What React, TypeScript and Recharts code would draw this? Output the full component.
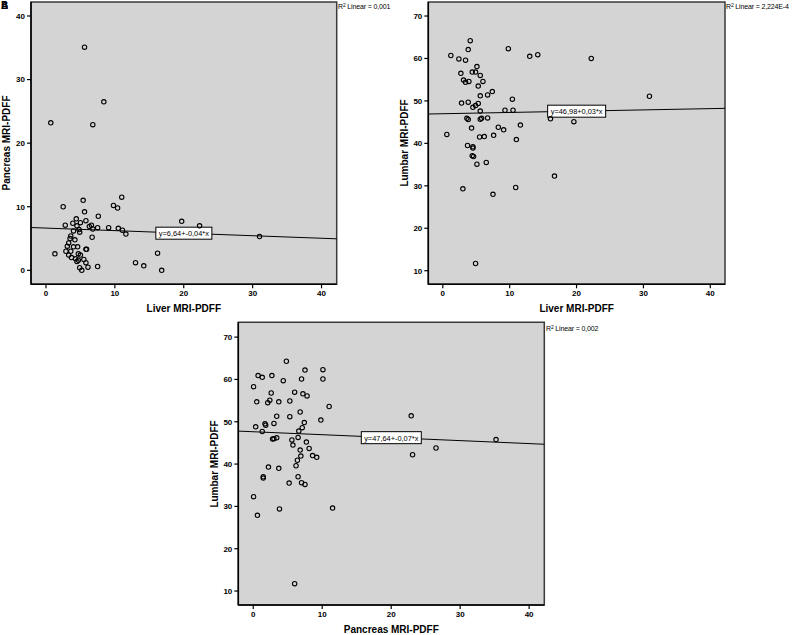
import React from 'react'
import {
  ScatterChart,
  Scatter,
  XAxis,
  YAxis,
  CartesianGrid,
  ReferenceLine,
  ReferenceArea,
} from 'recharts'

// axis ticks
const fatTicks = [0, 10, 20, 30, 40]
const pancreasTicks = [0, 10, 20, 30, 40]
const lumbarTicks = [10, 20, 30, 40, 50, 60, 70]

// panel A: liver (x) vs pancreas (y)
const aLiver = [
  0.7, 5.6, 8.4, 6.8, 1.3, 2.5, 5.4, 5.6, 2.8, 3.9, 4.4, 5.0, 5.8, 4.5, 4.8, 4.9,
  4.0, 3.6, 6.3, 6.6, 6.8, 7.5, 7.6, 9.1, 9.8, 10.4, 11.0, 10.5, 11.1, 11.6, 6.7,
  3.5, 4.2, 3.3, 3.1, 4.0, 4.6, 5.8, 5.9, 2.9, 3.6, 3.3, 4.7, 3.7, 5.0, 4.3, 5.5,
  4.5, 4.7, 5.8, 4.9, 5.2, 6.1, 7.5, 13.0, 14.2, 16.2, 16.8, 19.7, 22.3, 31.0,
]
const aPancreas = [
  23.2, 35.1, 26.5, 22.9, 2.6, 10.0, 11.0, 9.2, 7.1, 7.4, 8.1, 7.5, 7.8, 7.0, 6.4,
  6.0, 6.2, 5.4, 6.9, 7.1, 6.5, 6.7, 8.5, 6.7, 10.2, 9.8, 11.5, 6.6, 6.3, 5.7, 5.2,
  5.0, 4.8, 4.3, 3.8, 3.7, 3.7, 3.3, 3.3, 3.0, 3.0, 2.4, 2.6, 2.0, 2.4, 1.8, 1.7,
  1.4, 1.6, 1.2, 0.4, 0.0, 0.5, 0.6, 1.2, 0.7, 2.7, 0.0, 7.7, 7.0, 5.3,
]

// panel B: liver (x) vs lumbar (y)
const bLiver = [
  0.6, 1.2, 2.4, 3.4, 2.7, 3.1, 3.4, 3.9, 3.8, 4.1, 4.4, 4.9, 5.1, 5.6, 6.0, 5.3,
  5.6, 6.7, 7.4, 2.8, 3.8, 5.3, 4.5, 4.9, 5.6, 3.6, 3.8, 5.6, 5.8, 6.7, 4.3, 5.5,
  6.2, 7.6, 8.3, 9.1, 9.3, 10.5, 10.4, 11.6, 11.0, 9.8, 13.0, 14.2, 16.1, 19.6,
  22.2, 30.9, 3.7, 4.5, 4.5, 4.4, 4.6, 5.1, 6.5, 3.0, 7.5, 10.9, 16.7, 4.9,
]
const bLumbar = [
  42.1, 60.7, 59.9, 59.6, 56.5, 54.9, 54.4, 54.6, 62.1, 64.2, 56.8, 56.8, 58.1,
  56.0, 54.6, 53.5, 51.2, 51.4, 52.2, 49.5, 49.7, 49.4, 48.5, 48.9, 47.6, 45.9,
  45.6, 45.7, 45.9, 46.0, 43.6, 41.5, 41.6, 41.9, 43.8, 43.2, 47.8, 47.8, 50.4,
  44.3, 40.9, 62.3, 60.5, 60.9, 45.8, 45.1, 60.0, 51.1, 39.5, 39.2, 38.9, 37.1,
  36.9, 35.1, 35.5, 29.3, 28.0, 29.6, 32.3, 11.7,
]

// panel C: pancreas (x) vs lumbar (y)
const cPancreas = [
  0.05, 0.7, 1.3, 2.7, 4.35, 4.8, 7.5, 7.0, 10.1, 10.1, 0.5, 2.1, 2.4, 3.7, 2.6,
  5.3, 6.0, 7.2, 7.8, 11.0, 6.8, 3.4, 5.3, 9.8, 0.35, 1.7, 1.8, 3.0, 7.4, 1.3, 6.6,
  7.1, 2.8, 3.0, 3.4, 5.6, 6.5, 5.75, 7.7, 6.8, 8.1, 8.6, 9.2, 6.9, 6.4, 6.2, 2.2,
  3.7, 1.45, 1.45, 6.5, 5.2, 7.0, 7.5, 0.05, 0.6, 3.8, 11.5, 6.0, 22.9, 23.1, 26.5,
  35.2,
]
const cLumbar = [
  58.3, 60.9, 60.5, 60.9, 59.7, 64.3, 62.2, 60.1, 62.3, 60.1, 54.7, 54.5, 55.1,
  54.7, 56.8, 54.9, 57.0, 56.6, 56.1, 53.6, 52.3, 51.3, 51.2, 50.4, 48.8, 49.5,
  49.2, 49.6, 49.8, 47.7, 47.8, 48.6, 45.9, 46.0, 46.2, 45.7, 46.3, 44.5, 45.2,
  43.3, 43.7, 42.0, 41.6, 41.9, 40.9, 39.6, 39.3, 39.0, 37.0, 36.7, 37.0, 35.5,
  35.6, 35.2, 32.3, 27.9, 29.4, 29.6, 11.75, 51.4, 42.2, 43.8, 45.8,
]

const FONT = '"Liberation Sans", Arial, sans-serif'
const X_DOMAIN: [number, number] = [-2.17, 42.2]

const ring = (p: any) => (
  <circle cx={p.cx} cy={p.cy} r={2.2} fill="none" stroke="#000" strokeWidth={1.1} />
)

function EqBox({ viewBox, text, w }: any) {
  const cx = viewBox.x + viewBox.width / 2
  const cy = viewBox.y + viewBox.height / 2
  return (
    <g>
      <rect x={cx - w / 2} y={cy - 6} width={w} height={12} fill="#fff" stroke="#000" strokeWidth={1} />
      <text x={cx} y={cy + 0.5} textAnchor="middle" dominantBaseline="central" fontSize={7.4} fontFamily={FONT} fill="#000">
        {text}
      </text>
    </g>
  )
}

function Panel({ box, plot, xs, ys, yDomain, yTicks, intercept, slope, eq, eqW, xTitle, yTitle, yTitleX, r2, r2Pos }: any) {
  const data = xs.map((x: number, i: number) => ({ x, y: ys[i] }))
  const yAxisW = 25
  const xAxisH = 20
  const margin = {
    left: plot.l - box.x - yAxisW,
    top: plot.t - box.y,
    right: box.x + box.w - plot.r,
    bottom: box.y + box.h - plot.b - xAxisH,
  }
  const fit = (x: number) => intercept + slope * x
  const tick = { fill: '#000', fontSize: 8, fontWeight: 'bold', fontFamily: FONT }
  const midX = (plot.l + plot.r) / 2
  const midY = (plot.t + plot.b) / 2
  return (
    <>
      <div style={{ position: 'absolute', left: box.x, top: box.y }}>
        <ScatterChart width={box.w} height={box.h} margin={margin}>
          <CartesianGrid fill="#d4d4d4" horizontal={false} vertical={false} />
          <XAxis
            type="number"
            dataKey="x"
            domain={X_DOMAIN}
            ticks={fatTicks}
            allowDataOverflow
            height={xAxisH}
            tickSize={4}
            tickMargin={2}
            axisLine={{ stroke: '#000', strokeWidth: 1.5 }}
            tickLine={{ stroke: '#000', strokeWidth: 1.2 }}
            tick={tick}
          />
          <YAxis
            type="number"
            dataKey="y"
            domain={yDomain}
            ticks={yTicks}
            allowDataOverflow
            width={yAxisW}
            tickSize={4}
            tickMargin={2}
            axisLine={{ stroke: '#000', strokeWidth: 1.5 }}
            tickLine={{ stroke: '#000', strokeWidth: 1.2 }}
            tick={tick}
          />
          <ReferenceArea
            x1={X_DOMAIN[0]}
            x2={X_DOMAIN[1]}
            y1={yDomain[0]}
            y2={yDomain[1]}
            fill="none"
            stroke="#3a3a3a"
            strokeWidth={1.5}
            ifOverflow="visible"
          />
          <Scatter data={data} isAnimationActive={false} shape={ring} />
          <ReferenceLine
            segment={[
              { x: X_DOMAIN[0], y: fit(X_DOMAIN[0]) },
              { x: X_DOMAIN[1], y: fit(X_DOMAIN[1]) },
            ]}
            stroke="#000"
            strokeWidth={1}
            ifOverflow="visible"
            label={(p: any) => <EqBox viewBox={p.viewBox} text={eq} w={eqW} />}
          />
        </ScatterChart>
      </div>
      <div
        style={{
          position: 'absolute',
          left: midX - 100,
          width: 200,
          top: plot.b + 19,
          textAlign: 'center',
          font: `bold 10px ${FONT}`,
        }}
      >
        {xTitle}
      </div>
      <div
        style={{
          position: 'absolute',
          left: yTitleX,
          top: midY,
          transform: 'translate(-50%, -50%) rotate(-90deg)',
          whiteSpace: 'nowrap',
          font: `bold 10px ${FONT}`,
        }}
      >
        {yTitle}
      </div>
      <div
        style={{
          position: 'absolute',
          left: r2Pos[0],
          top: r2Pos[1],
          whiteSpace: 'nowrap',
          font: `7px ${FONT}`,
          letterSpacing: -0.15,
          lineHeight: '9px',
        }}
      >
        R<span style={{ fontSize: 5, verticalAlign: 'top', lineHeight: '6px' }}>2</span> Linear = {r2}
      </div>
    </>
  )
}

export default function App() {
  return (
    <div
      style={{
        position: 'absolute',
        left: 0,
        top: 0,
        width: 792,
        height: 635,
        background: '#fff',
        fontFamily: FONT,
        overflow: 'hidden',
      }}
    >
      <div style={{ position: 'absolute', left: 1, top: 0, font: `bold 10px ${FONT}` }}>B</div>
      <div style={{ position: 'absolute', left: 1, top: 0, font: `bold 10px ${FONT}` }}>A</div>
      <Panel
        box={{ x: 0, y: 0, w: 345, h: 318 }}
        plot={{ l: 31, t: 2, r: 336.7, b: 284.3 }}
        xs={aLiver}
        ys={aPancreas}
        yDomain={[-2.2, 42.2]}
        yTicks={pancreasTicks}
        intercept={6.64}
        slope={-0.04}
        eq="y=6,64+-0,04*x"
        eqW={56}
        xTitle="Liver MRI-PDFF"
        yTitle="Pancreas MRI-PDFF"
        yTitleX={6}
        r2="0,001"
        r2Pos={[338, 2]}
      />
      <Panel
        box={{ x: 395, y: 0, w: 340, h: 318 }}
        plot={{ l: 428.3, t: 2, r: 725, b: 284.3 }}
        xs={bLiver}
        ys={bLumbar}
        yDomain={[6.8, 73.3]}
        yTicks={lumbarTicks}
        intercept={46.98}
        slope={0.03}
        eq="y=46,98+0,03*x"
        eqW={58}
        xTitle="Liver MRI-PDFF"
        yTitle="Lumbar MRI-PDFF"
        yTitleX={403.5}
        r2="2,224E-4"
        r2Pos={[726, 2]}
      />
      <Panel
        box={{ x: 205, y: 315, w: 345, h: 320 }}
        plot={{ l: 238.3, t: 322.3, r: 544.3, b: 605 }}
        xs={cPancreas}
        ys={cLumbar}
        yDomain={[6.7, 73.5]}
        yTicks={lumbarTicks}
        intercept={47.64}
        slope={-0.07}
        eq="y=47,64+-0,07*x"
        eqW={60}
        xTitle="Pancreas MRI-PDFF"
        yTitle="Lumbar MRI-PDFF"
        yTitleX={214}
        r2="0,002"
        r2Pos={[546, 324]}
      />
    </div>
  )
}
